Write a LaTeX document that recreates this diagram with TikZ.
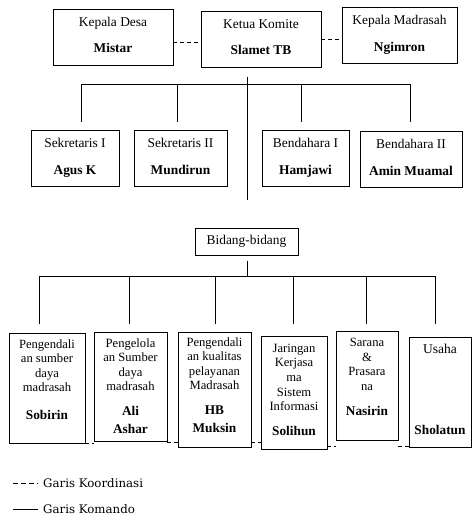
\documentclass[tikz,border=0pt]{standalone}
\usepackage{fontspec}
\setmainfont{Liberation Serif}
\newfontfamily\legfont{DejaVu Serif}
\newcommand\orgbox[3]{\parbox[c][#2][t]{#1}{\centering #3}}
\newcommand\pname[1]{{\fontsize{13.3}{14.6}\selectfont\bfseries #1}}
\tikzset{
  box/.style={draw, line width=0.9pt, inner sep=0pt, outer sep=0pt},
  topfont/.style={font=\fontsize{13.4}{16}\selectfont},
  lowfont/.style={font=\fontsize{12.6}{14.6}\selectfont},
  cmd/.style={line width=0.8pt},
  coord/.style={line width=0.8pt, dash pattern=on 4pt off 3pt},
  legtext/.style={font=\legfont\fontsize{11.8}{13}\selectfont, anchor=west, inner sep=0pt}
}
\begin{document}
\begin{tikzpicture}[x=1pt,y=-1pt]
\useasboundingbox (0,0) rectangle (472,515);
% top row
\node[box,topfont] (desa) at (113,37) {\orgbox{120pt}{56pt}{\rule{0pt}{17.5pt}Kepala Desa\\[10pt]\textbf{Mistar}}};
\node[box,topfont] (ketua) at (261,39) {\orgbox{120pt}{56pt}{\rule{0pt}{17pt}Ketua Komite\\[10.7pt]\textbf{Slamet TB}}};
\node[box,topfont] (mad) at (399.5,35) {\orgbox{115pt}{56pt}{\rule{0pt}{17pt}Kepala Madrasah\\[11.4pt]\textbf{Ngimron}}};
\draw[coord] ([yshift=-5pt]desa.east) -- ([yshift=-5pt]desa.east -| ketua.west);
\draw[coord] (ketua.east) -- (ketua.east -| mad.west);
% command line from ketua
\coordinate (t1) at (247,77);
\coordinate (t2) at (247,200);
\draw[cmd] (t1) -- (t2);
\coordinate (busl) at (81,84);
\coordinate (busr) at (410,84);
\draw[cmd] (busl) -- (busr);
\foreach \n/\x in {1/81,2/177,3/301,4/410}{
  \coordinate (u\n) at (\x,84);
  \coordinate (d\n) at (\x,122);
  \draw[cmd] (u\n) -- (d\n);
}
% second row
\node[box,topfont] (s1) at (75,158) {\orgbox{88pt}{56pt}{\rule{0pt}{17pt}Sekretaris I\\[11.5pt]\textbf{Agus K}}};
\node[box,topfont] (s2) at (180.5,158) {\orgbox{93pt}{56pt}{\rule{0pt}{17pt}Sekretaris II\\[11.5pt]\textbf{Mundirun}}};
\node[box,topfont] (b1) at (305.5,158) {\orgbox{87pt}{56pt}{\rule{0pt}{17pt}Bendahara I\\[11.5pt]\textbf{Hamjawi}}};
\node[box,topfont] (b2) at (411,159) {\orgbox{102pt}{56pt}{\rule{0pt}{17pt}Bendahara II\\[11.5pt]\textbf{Amin Muamal}}};
% bidang
\node[box,topfont,minimum width=103pt,minimum height=27pt] (bid) at (246.5,241.5) {Bidang-bidang};
\coordinate (c1) at (247,261);
\coordinate (c2) at (247,276);
\draw[cmd] (c1) -- (c2);
\coordinate (bus2l) at (39,276);
\coordinate (bus2r) at (435,276);
\draw[cmd] (bus2l) -- (bus2r);
\foreach \n/\x in {1/39,2/129,3/215,4/293,5/366,6/435}{
  \coordinate (e\n) at (\x,276);
  \coordinate (f\n) at (\x,324);
  \draw[cmd] (e\n) -- (f\n);
}
% bottom row
\node[box,lowfont] (p1) at (47,388) {\orgbox{76pt}{110pt}{\rule{0pt}{15pt}Pengendali\\an sumber\\daya\\madrasah\\[13pt]\pname{Sobirin}}};
\node[box,lowfont] (p2) at (130.5,386.5) {\orgbox{73pt}{109pt}{\rule{0pt}{15pt}Pengelola\\an Sumber\\daya\\madrasah\\[9.6pt]\pname{Ali}\\[3.4pt]\pname{Ashar}}};
\node[box,lowfont] (p3) at (214.5,389.5) {\orgbox{73pt}{115pt}{\rule{0pt}{14pt}Pengendali\\an kualitas\\pelayanan\\Madrasah\\[10pt]\pname{HB}\\[3.4pt]\pname{Muksin}}};
\node[box,lowfont] (p4) at (294,392.5) {\orgbox{66pt}{113pt}{\rule{0pt}{16.3pt}Jaringan\\Kerjasa\\ma\\Sistem\\Informasi\\[9.9pt]\pname{Solihun}}};
\node[box,lowfont] (p5) at (367,385.5) {\orgbox{62pt}{109pt}{\rule{0pt}{15.5pt}Sarana\\\&\\Prasara\\na\\[10.3pt]\pname{Nasirin}}};
\node[box,lowfont] (p6) at (440,392) {\orgbox{62pt}{110pt}{\rule{0pt}{16.5pt}{\fontsize{13.5}{14.6}\selectfont Usaha}\\[66.4pt]\pname{Sholatun}}};
\draw[coord] (p1.south east) -- (p1.south east -| p2.west);
\draw[coord] ([yshift=-1pt]p2.south east) -- ([yshift=-1pt]p2.south east -| p3.west);
\draw[coord] ([yshift=5pt]p3.south east) -- ([yshift=5pt]p3.south east -| p4.west);
\draw[coord] ([yshift=3pt]p4.south east) -- ([yshift=3pt]p4.south east -| p5.west);
\draw[coord] ([yshift=-6pt]p5.south east) -- ([yshift=-6pt]p5.south east -| p6.west);
% legend
\coordinate (la) at (13,483);
\coordinate (lb) at (38,483);
\draw[line width=0.7pt, dash pattern=on 5pt off 3pt] (la) -- (lb);
\node[legtext] (l1) at (43,483) {Garis Koordinasi};
\coordinate (lc) at (13,509);
\coordinate (ld) at (38,509);
\draw[line width=0.8pt] (lc) -- (ld);
\node[legtext] (l2) at (43,509) {Garis Komando};
\end{tikzpicture}
\end{document}
